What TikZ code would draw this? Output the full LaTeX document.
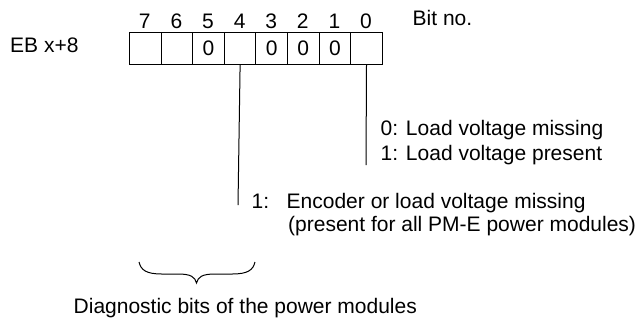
\documentclass[tikz,border=0pt]{standalone}
\usepackage{fontspec}
\setmainfont{Liberation Sans}
\begin{document}
\begin{tikzpicture}[x=1pt,y=-1pt,
  cell/.style={draw,line width=1pt,minimum width=31.6pt,minimum height=32pt,inner sep=0pt,anchor=north west,font=\fontsize{21}{24}\selectfont},
  lbl/.style={inner sep=0pt,anchor=base west,font=\fontsize{21}{24}\selectfont},
  conn/.style={line width=1pt}]
\useasboundingbox (0,0) rectangle (644,333);
\foreach \i/\v [count=\k from 0] in {7/{},6/{},5/0,4/{},3/0,2/0,1/0,0/{}} {
  \node[cell] (c\i) at (129+31.6*\k,32) {\v};
  \node[lbl,anchor=base] (n\i) at (129+15.8+31.6*\k,28) {\i};
}
\node[lbl] (bitno) at (412.5,25) {Bit no.};
\node[lbl] (eb) at (10,52) {EB x+8};
\coordinate (e0) at (366,165);
\coordinate (e4) at (238,205);
\draw[conn] (c0.south) -- (e0);
\draw[conn] (c4.south) -- (e4);
\node[lbl] (t0a) at (380.5,135) {0: Load voltage missing};
\node[lbl] (t0b) at (380.5,160) {1: Load voltage present};
\node[lbl] (t4a) at (251.5,208) {1:\hspace{17.5pt}Encoder or load voltage missing};
\node[lbl] (t4b) at (288,231) {(present for all PM-E power modules)};
\draw[conn] (139,262) .. controls (141,270) and (146,274) .. (162,274) -- (178,274) .. controls (191,274) and (195,277) .. (196.5,283)
  .. controls (198,277) and (202,274) .. (215,274) -- (232,274) .. controls (248,274) and (253,270) .. (255,262);
\node[lbl] (diag) at (73.5,313) {Diagnostic bits of the power modules};
\end{tikzpicture}
\end{document}
